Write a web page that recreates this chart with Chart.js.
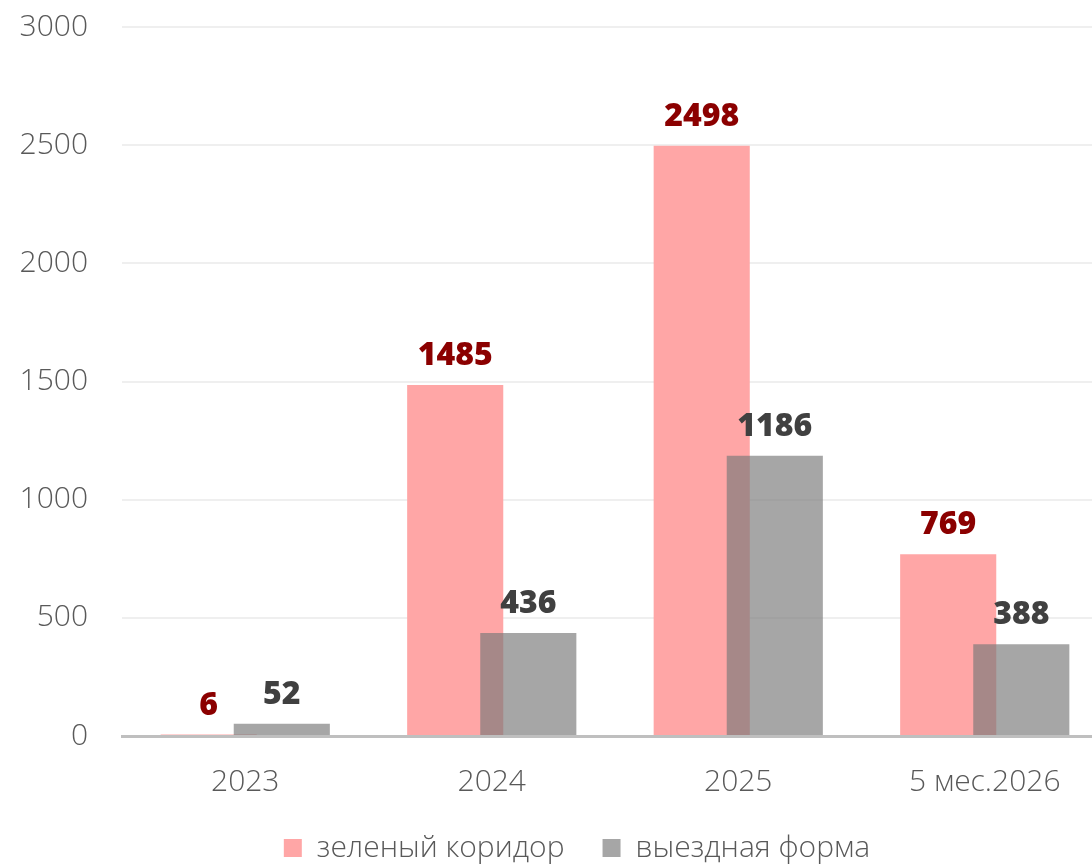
<!DOCTYPE html>
<html>
<head>
<meta charset="utf-8">
<script src="https://cdn.jsdelivr.net/npm/chart.js@4/dist/chart.umd.min.js"></script>
<style>
  html, body { margin: 0; padding: 0; background: #fff; overflow: hidden; }
  #wrap { width: 1154px; height: 865px; }
</style>
</head>
<body>
<div id="wrap"><canvas id="barChart" width="1154" height="865"></canvas></div>
<script>
const categories = ['2023', '2024', '2025', '5 мес.2026'];
const greenCorridor = [6, 1485, 2498, 769];
const exitForm = [52, 436, 1186, 388];
const seriesNames = ['зеленый коридор', 'выездная форма'];
const labelColors = ['#8b0000', '#404040'];

// draw pink first, grey on top (default order would put dataset 0 on top)
const overlapOrder = {
  id: 'overlapOrder',
  beforeDatasetsDraw(chart) {
    const ctx = chart.ctx;
    const area = chart.chartArea;
    ctx.save();
    ctx.beginPath();
    ctx.rect(area.left, area.top - 5, area.right - area.left, area.bottom - area.top + 5);
    ctx.clip();
    for (let i = 0; i < chart.data.datasets.length; i++) {
      chart.getDatasetMeta(i).controller.draw();
    }
    ctx.restore();

    // value labels
    ctx.save();
    ctx.font = '800 32px "Open Sans"';
    ctx.textAlign = 'center';
    ctx.textBaseline = 'middle';
    chart.data.datasets.forEach((ds, i) => {
      const meta = chart.getDatasetMeta(i);
      ctx.fillStyle = labelColors[i];
      meta.data.forEach((bar, j) => {
        ctx.fillText(String(ds.data[j]), bar.x, bar.y - 29);
      });
    });
    ctx.restore();
    return false;
  }
};

const tickFont = { family: 'Open Sans', size: 30, weight: '300' };

new Chart(document.getElementById('barChart'), {
  type: 'bar',
  data: {
    labels: categories,
    datasets: [
      {
        label: seriesNames[0],
        data: greenCorridor,
        backgroundColor: '#ffa6a6',
        borderWidth: 0,
        categoryPercentage: 0.593,
        barPercentage: 1.315
      },
      {
        label: seriesNames[1],
        data: exitForm,
        backgroundColor: 'rgba(120,120,120,0.66)',
        borderWidth: 0,
        categoryPercentage: 0.593,
        barPercentage: 1.315
      }
    ]
  },
  options: {
    responsive: false,
    animation: false,
    layout: { padding: { left: 0, right: 0, top: 27, bottom: -8 } },
    plugins: {
      legend: {
        position: 'bottom',
        labels: {
          boxWidth: 18,
          boxHeight: 18,
          padding: 38,
          color: '#595959',
          font: tickFont
        }
      },
      tooltip: { enabled: false }
    },
    scales: {
      x: {
        grid: { display: false, drawTicks: false },
        border: { color: '#bfbfbf', width: 3 },
        ticks: {
          padding: 28,
          color: '#595959',
          font: tickFont
        },
        afterFit(scale) { scale.height = 59; }
      },
      y: {
        min: 0,
        max: 3000,
        grid: { color: '#efefef', lineWidth: 2, tickLength: 34, tickColor: 'rgba(0,0,0,0)' },
        border: { display: false },
        ticks: {
          stepSize: 500,
          padding: 0,
          color: '#595959',
          font: tickFont,
          callback: v => String(v)
        },
        afterFit(scale) { scale.width = 122; }
      },
      // empty spacer on the right so the plot runs past the visible edge
      spacer: {
        position: 'right',
        grid: { display: false },
        border: { display: false },
        ticks: { display: false },
        afterFit(scale) { scale.width = 46; }
      }
    }
  },
  plugins: [overlapOrder]
});
</script>
</body>
</html>
